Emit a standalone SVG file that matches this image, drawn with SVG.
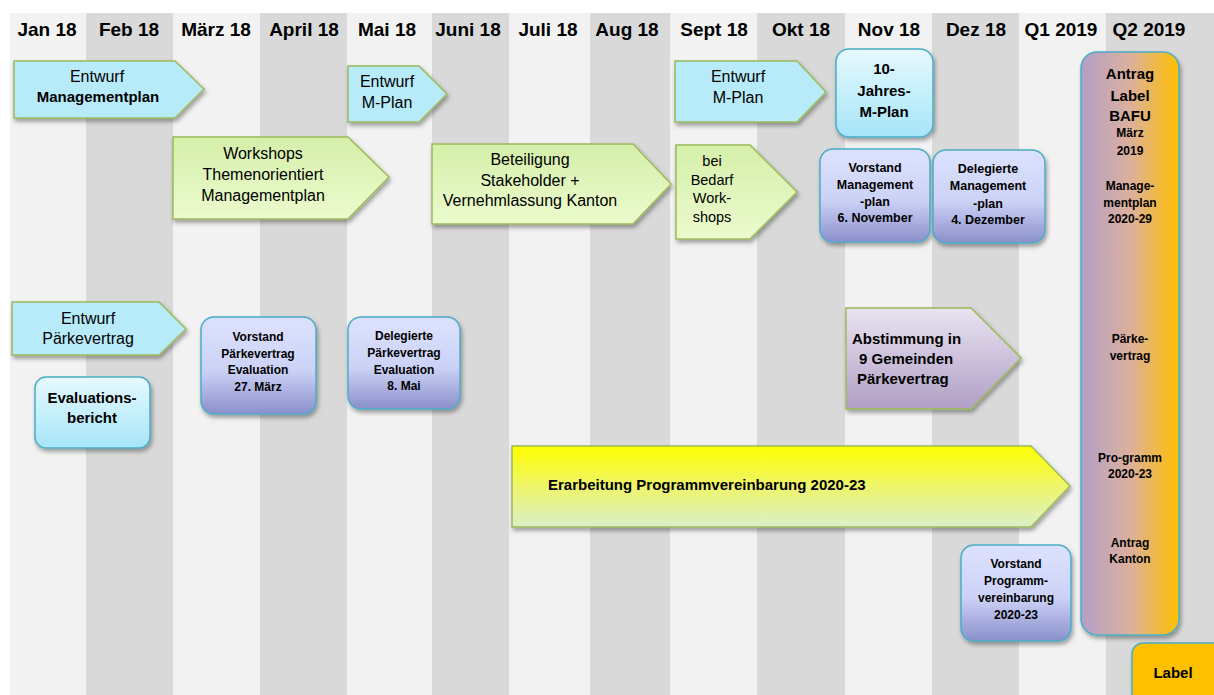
<svg xmlns="http://www.w3.org/2000/svg" width="1214" height="695" viewBox="0 0 1214 695">
  <style>
    text { font-family: "Liberation Sans", Arial, sans-serif; fill: #000; text-anchor: middle; }
    .hdr { font-size: 19px; font-weight: bold; }
    .n16 { font-size: 16px; }
    .n145 { font-size: 14.5px; }
    .b15 { font-size: 15px; font-weight: bold; }
    .b125 { font-size: 12.5px; font-weight: bold; }
    .b12 { font-size: 12px; font-weight: bold; }
    .colL { fill: #f2f2f2; }
    .colD { fill: #d9d9d9; }
    .arrow { stroke: #9bbb59; stroke-width: 1.5; stroke-linejoin: miter; filter: url(#shadow); }
    .box { stroke: #4bacc6; stroke-width: 1.5; filter: url(#shadow); }
    .cyanFlat { fill: #b8ebfa; }
  </style>
  <defs>
    <filter id="shadow" x="-10%" y="-10%" width="125%" height="130%">
      <feDropShadow dx="1.5" dy="3" stdDeviation="2" flood-color="#000" flood-opacity="0.35"/>
    </filter>
    <linearGradient id="gGreen" x1="0" y1="0" x2="0" y2="1">
      <stop offset="0" stop-color="#d5efaa"/>
      <stop offset="1" stop-color="#ebfbcd"/>
    </linearGradient>
    <linearGradient id="gBlue" x1="0" y1="0" x2="0" y2="1">
      <stop offset="0" stop-color="#dce2fd"/>
      <stop offset="0.55" stop-color="#ccd2f6"/>
      <stop offset="1" stop-color="#8b8fcb"/>
    </linearGradient>
    <linearGradient id="gCyan" x1="0" y1="0" x2="0" y2="1">
      <stop offset="0" stop-color="#e6f9fe"/>
      <stop offset="1" stop-color="#a6e5f8"/>
    </linearGradient>
    <linearGradient id="gPurple" x1="0" y1="0" x2="0" y2="1">
      <stop offset="0" stop-color="#e9e3f1"/>
      <stop offset="1" stop-color="#b09fc5"/>
    </linearGradient>
    <linearGradient id="gYellow" x1="0" y1="0" x2="0" y2="1">
      <stop offset="0" stop-color="#ffff00"/>
      <stop offset="0.5" stop-color="#eef56a"/>
      <stop offset="1" stop-color="#daf0c8"/>
    </linearGradient>
    <linearGradient id="gOrange" x1="0" y1="0" x2="1" y2="0">
      <stop offset="0" stop-color="#b19fc8"/>
      <stop offset="0.5" stop-color="#dcb09d"/>
      <stop offset="1" stop-color="#ffc000"/>
    </linearGradient>
  </defs>

  <!-- page background -->
  <rect width="1214" height="695" fill="#ffffff"/>

  <!-- month columns -->
  <g id="columns">
    <rect class="colL" x="10" y="13" width="76" height="682"/>
    <rect class="colD" x="86" y="13" width="87" height="682"/>
    <rect class="colL" x="173" y="13" width="87" height="682"/>
    <rect class="colD" x="260" y="13" width="87" height="682"/>
    <rect class="colL" x="347" y="13" width="85" height="682"/>
    <rect class="colD" x="432" y="13" width="77" height="682"/>
    <rect class="colL" x="509" y="13" width="81" height="682"/>
    <rect class="colD" x="590" y="13" width="80" height="682"/>
    <rect class="colL" x="670" y="13" width="87" height="682"/>
    <rect class="colD" x="757" y="13" width="88" height="682"/>
    <rect class="colL" x="845" y="13" width="87" height="682"/>
    <rect class="colD" x="932" y="13" width="87" height="682"/>
    <rect class="colL" x="1019" y="13" width="87" height="682"/>
    <rect class="colD" x="1106" y="13" width="108" height="682"/>
  </g>

  <!-- column headings -->
  <g id="headings" class="hdr">
    <text class="hdr" x="47" y="36">Jan 18</text>
    <text class="hdr" x="129" y="36">Feb 18</text>
    <text class="hdr" x="216" y="36">März 18</text>
    <text class="hdr" x="304" y="36">April 18</text>
    <text class="hdr" x="387" y="36">Mai 18</text>
    <text class="hdr" x="468" y="36">Juni 18</text>
    <text class="hdr" x="548" y="36">Juli 18</text>
    <text class="hdr" x="627" y="36">Aug 18</text>
    <text class="hdr" x="714" y="36">Sept 18</text>
    <text class="hdr" x="801" y="36">Okt 18</text>
    <text class="hdr" x="889" y="36">Nov 18</text>
    <text class="hdr" x="976" y="36">Dez 18</text>
    <text class="hdr" x="1061" y="36">Q1 2019</text>
    <text class="hdr" x="1149" y="36">Q2 2019</text>
  </g>

  <!-- connectors: none drawn, shapes carry their own arrow tips -->
  <g id="connectors"></g>

  <g id="entwurf-managementplan">
    <path class="arrow cyanFlat" d="M14,61 H175 L204,89 L175,118 H14 Z"/>
    <text class="n16" x="97" y="82">Entwurf</text>
    <text class="b15" x="98" y="102">Managementplan</text>
  </g>

  <g id="entwurf-mplan-mai">
    <path class="arrow cyanFlat" d="M348,66 H419 L447,94 L419,122 H348 Z"/>
    <text class="n16" x="387" y="87">Entwurf</text>
    <text class="n16" x="387" y="108">M-Plan</text>
  </g>

  <g id="entwurf-mplan-sept">
    <path class="arrow cyanFlat" d="M675,61 H797 L826,92 L797,122 H675 Z"/>
    <text class="n16" x="738" y="82">Entwurf</text>
    <text class="n16" x="738" y="103">M-Plan</text>
  </g>

  <g id="zehn-jahres-mplan">
    <rect class="box" x="836" y="49" width="97" height="88" rx="13" fill="url(#gCyan)"/>
    <text class="b15" x="884" y="74">10-</text>
    <text class="b15" x="884" y="96">Jahres-</text>
    <text class="b15" x="884" y="117">M-Plan</text>
  </g>

  <g id="antrag-label-bafu">
    <rect class="box" x="1081" y="52" width="98" height="583" rx="16" fill="url(#gOrange)"/>
    <text class="b15" x="1130" y="79">Antrag</text>
    <text class="b15" x="1130" y="101">Label</text>
    <text class="b15" x="1130" y="121">BAFU</text>
    <text class="b12" x="1130" y="137">März</text>
    <text class="b12" x="1130" y="155">2019</text>
    <text class="b12" x="1130" y="190">Manage-</text>
    <text class="b12" x="1130" y="207">mentplan</text>
    <text class="b12" x="1130" y="223">2020-29</text>
    <text class="b12" x="1130" y="343">Pärke-</text>
    <text class="b12" x="1130" y="360">vertrag</text>
    <text class="b12" x="1130" y="462">Pro-gramm</text>
    <text class="b12" x="1130" y="478">2020-23</text>
    <text class="b12" x="1130" y="547">Antrag</text>
    <text class="b12" x="1130" y="563">Kanton</text>
  </g>

  <g id="label">
    <rect class="box" x="1132" y="643" width="92" height="62" rx="11" fill="#ffc000"/>
    <text class="b15" x="1173" y="678">Label</text>
  </g>

  <g id="workshops">
    <path class="arrow" fill="url(#gGreen)" d="M173,137 H348 L389,177 L348,219 H173 Z"/>
    <text class="n16" x="263" y="159">Workshops</text>
    <text class="n16" x="263" y="180">Themenorientiert</text>
    <text class="n16" x="263" y="201">Managementplan</text>
  </g>

  <g id="beteiligung">
    <path class="arrow" fill="url(#gGreen)" d="M432,144 H633 L671,184 L633,224 H432 Z"/>
    <text class="n16" x="530" y="165">Beteiligung</text>
    <text class="n16" x="530" y="186">Stakeholder +</text>
    <text class="n16" x="530" y="206">Vernehmlassung Kanton</text>
  </g>

  <g id="bei-bedarf">
    <path class="arrow" fill="url(#gGreen)" d="M676,145 H750 L797,192 L750,239 H676 Z"/>
    <text class="n145" x="712" y="166">bei</text>
    <text class="n145" x="712" y="185">Bedarf</text>
    <text class="n145" x="712" y="203">Work-</text>
    <text class="n145" x="712" y="222">shops</text>
  </g>

  <g id="vorstand-management">
    <rect class="box" x="820" y="149" width="110" height="93" rx="13" fill="url(#gBlue)"/>
    <text class="b125" x="875" y="172">Vorstand</text>
    <text class="b125" x="875" y="189">Management</text>
    <text class="b125" x="875" y="206">-plan</text>
    <text class="b125" x="875" y="222">6. November</text>
  </g>

  <g id="delegierte-management">
    <rect class="box" x="933" y="150" width="112" height="93" rx="13" fill="url(#gBlue)"/>
    <text class="b125" x="988" y="173">Delegierte</text>
    <text class="b125" x="988" y="190">Management</text>
    <text class="b125" x="988" y="208">-plan</text>
    <text class="b125" x="988" y="224">4. Dezember</text>
  </g>

  <g id="entwurf-paerkevertrag">
    <path class="arrow cyanFlat" d="M12,302 H159 L186,329 L159,355 H12 Z"/>
    <text class="n16" x="88" y="324">Entwurf</text>
    <text class="n16" x="88" y="344">Pärkevertrag</text>
  </g>

  <g id="evaluationsbericht">
    <rect class="box" x="35" y="377" width="115" height="71" rx="11" fill="url(#gCyan)"/>
    <text class="b15" x="92" y="403">Evaluations-</text>
    <text class="b15" x="92" y="423">bericht</text>
  </g>

  <g id="vorstand-paerkevertrag">
    <rect class="box" x="201" y="317" width="115" height="97" rx="13" fill="url(#gBlue)"/>
    <text class="b12" x="258" y="341">Vorstand</text>
    <text class="b12" x="258" y="358">Pärkevertrag</text>
    <text class="b12" x="258" y="374">Evaluation</text>
    <text class="b12" x="258" y="391">27. März</text>
  </g>

  <g id="delegierte-paerkevertrag">
    <rect class="box" x="348" y="317" width="112" height="92" rx="13" fill="url(#gBlue)"/>
    <text class="b12" x="404" y="340">Delegierte</text>
    <text class="b12" x="404" y="357">Pärkevertrag</text>
    <text class="b12" x="404" y="374">Evaluation</text>
    <text class="b12" x="404" y="390">8. Mai</text>
  </g>

  <g id="abstimmung">
    <path class="arrow" fill="url(#gPurple)" d="M846,308 H971 L1021,358 L971,409 H846 Z"/>
    <text class="b15" x="852" y="344" text-anchor="start" style="text-anchor:start">Abstimmung in</text>
    <text class="b15" x="859" y="364" style="text-anchor:start">9 Gemeinden</text>
    <text class="b15" x="857" y="384" style="text-anchor:start">Pärkevertrag</text>
  </g>

  <g id="programmvereinbarung">
    <path class="arrow" fill="url(#gYellow)" d="M512,446 H1031 L1070,486 L1031,527 H512 Z"/>
    <text class="b15" x="548" y="490" style="text-anchor:start">Erarbeitung Programmvereinbarung 2020-23</text>
  </g>

  <g id="vorstand-programm">
    <rect class="box" x="961" y="545" width="110" height="96" rx="13" fill="url(#gBlue)"/>
    <text class="b12" x="1016" y="568">Vorstand</text>
    <text class="b12" x="1016" y="585">Programm-</text>
    <text class="b12" x="1016" y="602">vereinbarung</text>
    <text class="b12" x="1016" y="619">2020-23</text>
  </g>
</svg>
